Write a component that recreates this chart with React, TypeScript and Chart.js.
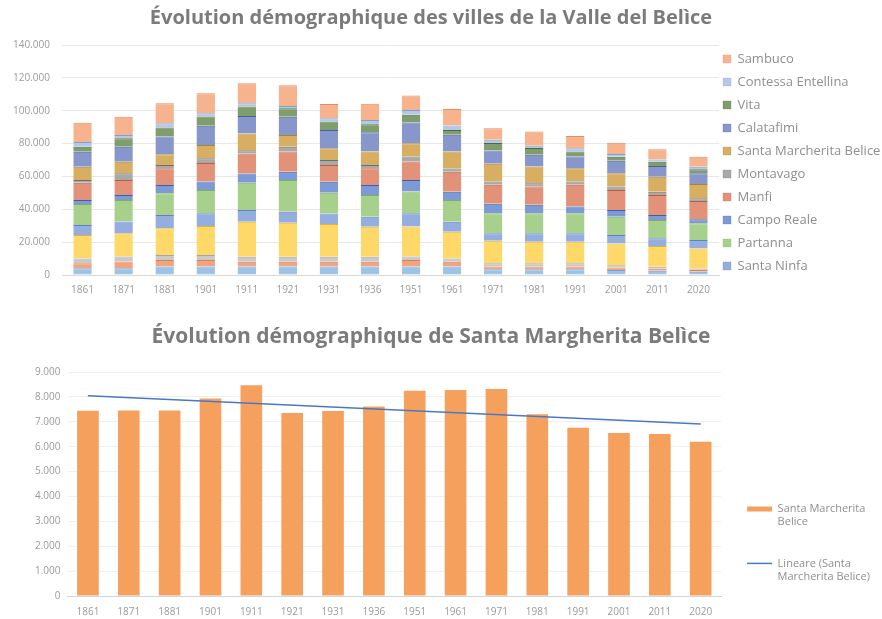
import React, { useEffect, useRef } from "react";
import { Chart, registerables } from "chart.js";

Chart.register(...registerables);

// ---------- data ----------
const years = ["1861", "1871", "1881", "1901", "1911", "1921", "1931", "1936", "1951", "1961", "1971", "1981", "1991", "2001", "2011", "2020"];

// stacked series, bottom to top (first four are not listed in the truncated legend)
const gibellina = [4100, 4100, 5100, 5100, 5100, 5100, 5100, 5100, 5100, 5100, 3500, 3500, 3500, 3000, 2600, 2000];
const salaparuta = [3000, 4100, 4100, 4100, 3000, 3000, 3000, 3000, 4100, 3000, 1600, 1600, 1600, 1600, 1200, 1000];
const poggioreale = [3000, 3000, 3000, 3000, 3000, 3000, 3000, 3000, 2000, 2000, 2000, 2000, 2000, 1400, 1200, 1000];
const salemi = [14200, 14200, 16200, 17700, 21300, 20700, 19900, 18300, 18300, 16200, 13800, 13200, 13200, 13200, 12600, 12200];
const santaNinfa = [6100, 7100, 8100, 7700, 7100, 6700, 6500, 6100, 8100, 6100, 4500, 5100, 5100, 5100, 4700, 5100];
const partanna = [12800, 13200, 13200, 14200, 16600, 19300, 12600, 13200, 13200, 13200, 12200, 12200, 12200, 11200, 11200, 10200];
const campoReale = [2400, 3000, 5100, 5100, 5700, 5100, 6700, 6100, 7100, 5100, 5700, 5100, 4100, 4100, 3000, 2400];
const menfi = [10600, 9100, 10200, 11200, 12200, 12200, 10200, 10200, 11200, 12200, 11600, 11200, 13200, 12200, 12200, 11200];
const montevago = [1600, 4100, 2000, 3000, 2000, 3000, 3000, 2000, 3000, 2000, 2000, 2000, 2000, 2000, 2000, 1600];
const santaMargheritaStack = [8100, 7100, 6500, 8100, 10200, 7100, 7100, 8100, 8100, 10200, 10800, 10200, 8100, 8100, 9100, 8700];
const calatafimi = [9100, 9100, 10800, 11600, 10600, 11200, 11200, 11800, 12600, 10200, 8100, 7100, 7100, 7700, 6500, 6500];
const vita = [3000, 5100, 5500, 5700, 5700, 5100, 5100, 4900, 4700, 3000, 4500, 4100, 3000, 2400, 2600, 2400];
const contessaEntellina = [3000, 2000, 2600, 2000, 2000, 1400, 2000, 2600, 3000, 2700, 2000, 1400, 2000, 1600, 1400, 1600];
const sambuca = [11600, 11200, 12200, 12200, 12200, 12600, 8700, 9800, 8700, 10100, 7100, 8700, 7500, 6900, 6300, 6100];

const seriesNames = [
  "Gibellina", "Salaparuta", "Poggioreale", "Salemi",
  "Santa Ninfa", "Partanna", "Campo Reale", "Manfi", "Montavago",
  "Santa Marcherita Belice", "Calatafimi", "Vita", "Contessa Entellina", "Sambuco",
];
const seriesValues = [
  gibellina, salaparuta, poggioreale, salemi, santaNinfa, partanna, campoReale,
  menfi, montevago, santaMargheritaStack, calatafimi, vita, contessaEntellina, sambuca,
];

// Santa Margherita Belice
const smbPopulation = [7440, 7450, 7450, 7940, 8470, 7350, 7430, 7610, 8250, 8280, 8320, 7300, 6760, 6550, 6510, 6200];
const smbTrend = [8050, null, null, null, null, null, null, null, null, null, null, null, null, null, null, 6910];

const topTitle = "Évolution démographique des villes de la Valle del Belìce";
const bottomTitle = "Évolution démographique de Santa Margherita Belìce";

// ---------- styles ----------
const fills = [
  "#9DC3E6", "#F2A47E", "#C9C9C9", "#FFD86A", "#93AEDF", "#A8D08D", "#7E9AD6",
  "#E3927A", "#A9A9A9", "#D8AE63", "#8797CB", "#7F9E6C", "#B4C9EA", "#F7B28E",
];
const edges = [
  "#6F9FCF", "#D9805A", "#A5A5A5", "#E0B23A", "#5F80C2", "#7EAE5E", "#3D5FA8",
  "#B4603E", "#6E6E6E", "#A88330", "#4D5E9C", "#4C6B3A", "#7E9FD2", "#E08F66",
];
const FONT = "'Open Sans', 'DejaVu Sans', sans-serif";
const tickColor = "#9a9a9a";
const legendColor = "#8f8f8f";
const fmt = (v: number) => String(v).replace(/\B(?=(\d{3})+(?!\d))/g, ".");

// centre the title over the area left of the legend text column, and nudge the legend column
const makeLayoutTweak = (legendDx: number) => ({
  id: "layoutTweak",
  afterLayout(chart: any) {
    const t = chart.titleBlock;
    if (t) t.right = t.right - 20;
    const l = chart.legend;
    if (l) l.left = l.left - legendDx;
  },
});

export default function App() {
  const topRef = useRef<HTMLCanvasElement | null>(null);
  const botRef = useRef<HTMLCanvasElement | null>(null);

  useEffect(() => {
    Chart.defaults.font.family = FONT;
    const top = new Chart(topRef.current as HTMLCanvasElement, {
      type: "bar",
      data: {
        labels: years,
        datasets: seriesValues.map((vals, i) => ({
          label: seriesNames[i],
          data: vals,
          backgroundColor: fills[i],
          borderColor: edges[i],
          borderWidth: { top: 1, right: 0, bottom: 0, left: 0 },
          borderSkipped: false,
          barPercentage: 0.45,
          categoryPercentage: 1,
        })),
      },
      plugins: [makeLayoutTweak(6)],
      options: {
        animation: false,
        responsive: false,
        layout: { padding: { left: 0, right: 0, top: 0, bottom: 0 } },
        plugins: {
          tooltip: { enabled: false },
          title: {
            display: true,
            text: topTitle,
            color: "#7b7b7b",
            font: { size: 20, weight: "bold", family: FONT },
            padding: { top: 6, bottom: 15 },
          },
          legend: {
            display: true,
            position: "right",
            align: "start",
            fullSize: true,
            reverse: true,
            maxWidth: 163,
            title: { display: true, text: " ", padding: { top: 30.5, bottom: 0 }, font: { size: 10 } },
            labels: {
              boxWidth: 8,
              boxHeight: 8,
              padding: 10,
              color: legendColor,
              font: { size: 13, family: FONT },
              filter: (item: any) => item.datasetIndex >= 4,
            },
          },
        },
        scales: {
          x: {
            stacked: true,
            grid: { display: false, drawTicks: false },
            border: { display: true, color: "#D9D9D9" },
            ticks: { color: tickColor, font: { size: 10 }, padding: 9, maxRotation: 0, autoSkip: false },
          },
          y: {
            stacked: true,
            min: 0,
            max: 140000,
            grid: { color: "#E8E8E8", drawTicks: false },
            border: { display: false },
            ticks: { stepSize: 20000, color: tickColor, font: { size: 10 }, padding: 12, callback: (v: any) => fmt(Number(v)) },
            afterFit: (s: any) => { s.width = 62; },
          },
        },
      },
    } as any);

    const orange = "#F5A15D";
    const blue = "#4A78C4";
    const bottom = new Chart(botRef.current as HTMLCanvasElement, {
      type: "bar",
      data: {
        labels: years,
        datasets: [
          {
            type: "bar",
            label: "Santa Marcherita Belice",
            data: smbPopulation,
            backgroundColor: orange,
            barPercentage: 0.53,
            categoryPercentage: 1,
            order: 1,
          },
          {
            type: "line",
            label: "Lineare (Santa Marcherita Belice)",
            data: smbTrend,
            borderColor: blue,
            borderWidth: 1.5,
            pointRadius: 0,
            spanGaps: true,
            fill: false,
            order: 0,
          },
        ],
      },
      plugins: [makeLayoutTweak(2)],
      options: {
        animation: false,
        responsive: false,
        layout: { padding: { left: 0, right: 0, top: 0, bottom: 0 } },
        plugins: {
          tooltip: { enabled: false },
          title: {
            display: true,
            text: bottomTitle,
            color: "#7b7b7b",
            font: { size: 21, weight: "bold", family: FONT },
            padding: { top: 14.4, bottom: 22.4 },
          },
          legend: {
            display: true,
            position: "right",
            align: "start",
            fullSize: true,
            maxWidth: 163,
            title: { display: true, text: " ", padding: { top: 153.5, bottom: 0 }, font: { size: 10 } },
            labels: {
              usePointStyle: true,
              pointStyleWidth: 25,
              padding: 28,
              color: legendColor,
              font: { size: 11, family: FONT },
              generateLabels: () => [
                {
                  text: ["Santa Marcherita", "Belice"],
                  fillStyle: orange,
                  strokeStyle: orange,
                  lineWidth: 5,
                  pointStyle: "line",
                  datasetIndex: 0,
                  hidden: false,
                  fontColor: legendColor,
                },
                {
                  text: ["Lineare (Santa", "Marcherita Belice)"],
                  fillStyle: blue,
                  strokeStyle: blue,
                  lineWidth: 1.5,
                  pointStyle: "line",
                  datasetIndex: 1,
                  hidden: false,
                  fontColor: legendColor,
                },
              ],
            },
          },
        },
        scales: {
          x: {
            grid: { display: false, drawTicks: false },
            border: { display: true, color: "#CFD6E0" },
            ticks: { color: tickColor, font: { size: 10 }, padding: 10, maxRotation: 0, autoSkip: false },
          },
          y: {
            min: 0,
            max: 9000,
            grid: { color: "#F0F0F0", drawTicks: false },
            border: { display: false },
            ticks: { stepSize: 1000, color: tickColor, font: { size: 10 }, padding: 7, callback: (v: any) => fmt(Number(v)) },
            afterFit: (s: any) => { s.width = 67.5; },
          },
        },
      },
    } as any);

    return () => {
      top.destroy();
      bottom.destroy();
    };
  }, []);

  return (
    <div style={{ position: "fixed", left: 0, top: 0, width: 882, height: 619, background: "#ffffff", overflow: "hidden" }}>
      <canvas ref={topRef} width={882} height={305} style={{ position: "absolute", left: 0, top: 0, width: 882, height: 305 }} />
      <canvas ref={botRef} width={882} height={318} style={{ position: "absolute", left: 0, top: 310, width: 882, height: 318 }} />
    </div>
  );
}
